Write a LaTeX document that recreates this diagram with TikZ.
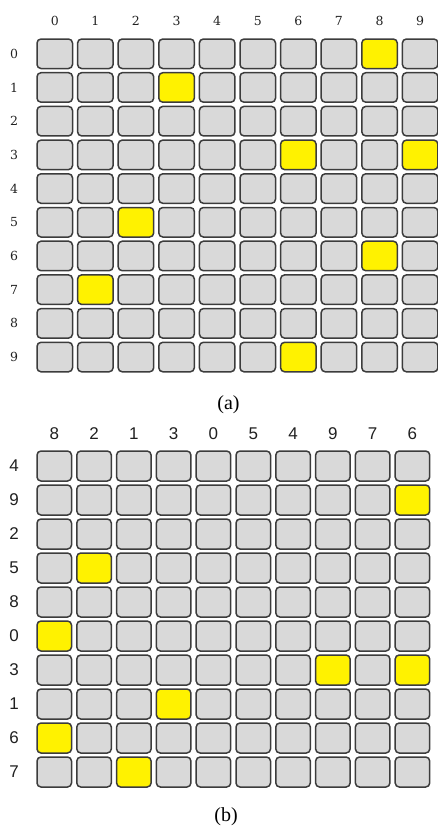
\documentclass[tikz,border=0pt]{standalone}
\usepackage{fontspec}
\setmainfont{Liberation Serif}
\newfontfamily\topfont{DejaVu Serif}
\newfontfamily\botfont{Liberation Sans}
\definecolor{cellgray}{HTML}{D9D9D9}
\definecolor{cellborder}{HTML}{3C3C3C}
\definecolor{cellyellow}{HTML}{FFF200}
\definecolor{labelcol}{HTML}{202020}
\tikzset{
  gcellA/.style={draw=cellborder, fill=cellgray, line width=1.5pt, rounded corners=4pt,
    minimum width=35.5pt, minimum height=29.5pt, inner sep=0pt},
  ycellA/.style={gcellA, fill=cellyellow},
  gcellB/.style={draw=cellborder, fill=cellgray, line width=1.5pt, rounded corners=4pt,
    minimum width=34.5pt, minimum height=30pt, inner sep=0pt},
  ycellB/.style={gcellB, fill=cellyellow},
  toplab/.style={font=\topfont\fontsize{12.5}{14}\selectfont, text=labelcol, inner sep=0pt},
  botlab/.style={font=\botfont\fontsize{17}{19}\selectfont, text=labelcol, inner sep=0pt},
  caplab/.style={font=\fontsize{20}{22}\selectfont, text=black, inner sep=0pt}
}
% yellow cells of (a): row-col
\expandafter\def\csname ya-0-8\endcsname{}
\expandafter\def\csname ya-1-3\endcsname{}
\expandafter\def\csname ya-3-6\endcsname{}
\expandafter\def\csname ya-3-9\endcsname{}
\expandafter\def\csname ya-5-2\endcsname{}
\expandafter\def\csname ya-6-8\endcsname{}
\expandafter\def\csname ya-7-1\endcsname{}
\expandafter\def\csname ya-9-6\endcsname{}
\begin{document}
\begin{tikzpicture}[x=1pt,y=-1pt]
\useasboundingbox (0,0) rectangle (437,831);
% ---------- grid (a) ----------
\foreach \c in {0,...,9}{
  \node[toplab] (ta-col-\c) at ({54.75+40.6*\c},21) {\c};
}
\foreach \r in {0,...,9}{
  \node[toplab] (ta-row-\r) at (14,{53.75+33.7*\r}) {\r};
  \foreach \c in {0,...,9}{
    \ifcsname ya-\r-\c\endcsname\def\cs{ycellA}\else\def\cs{gcellA}\fi
    \node[\cs] (a-\r-\c) at ({54.75+40.6*\c},{53.75+33.7*\r}) {};
  }
}
\node[caplab] (capa) at (228.5,404.5) {(a)};
% ---------- grid (b) ----------
\foreach \lab [count=\i from 0] in {8,2,1,3,0,5,4,9,7,6}{
  \node[botlab] (tb-col-\i) at ({54.25+39.8*\i},434) {\lab};
}
\foreach \rlab [count=\j from 0] in {4,9,2,5,8,0,3,1,6,7}{
  \node[botlab] (tb-row-\j) at (14,{466+34*\j}) {\rlab};
  \foreach \clab [count=\i from 0] in {8,2,1,3,0,5,4,9,7,6}{
    \ifcsname ya-\rlab-\clab\endcsname\def\cs{ycellB}\else\def\cs{gcellB}\fi
    \node[\cs] (b-\j-\i) at ({54.25+39.8*\i},{466+34*\j}) {};
  }
}
\node[caplab] (capb) at (226,817) {(b)};
\end{tikzpicture}
\end{document}
